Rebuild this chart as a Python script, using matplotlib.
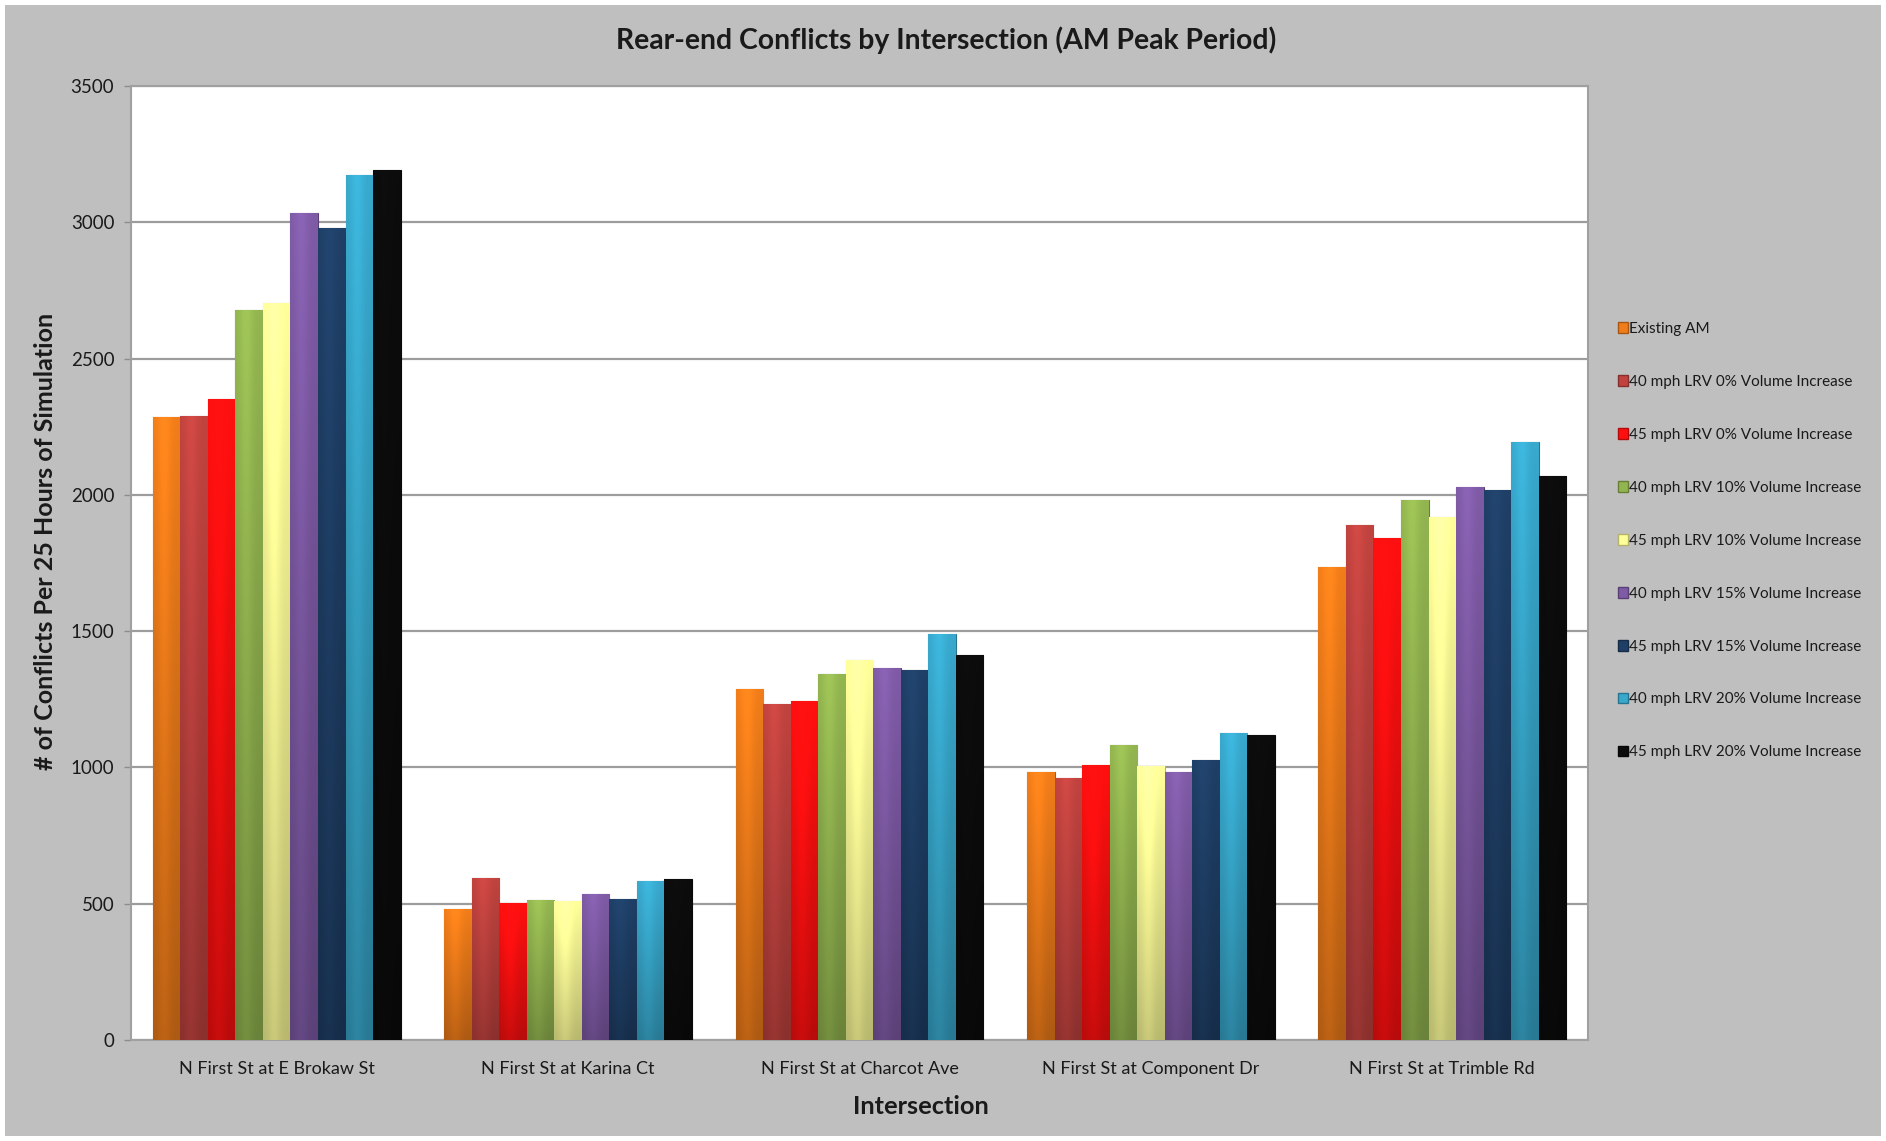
import numpy as np
import matplotlib
matplotlib.use("Agg")
import matplotlib.pyplot as plt
from matplotlib.patches import Patch, Rectangle
from matplotlib.colors import to_rgb

# Intersections on the x axis
intersections = [
    "N First St at E Brokaw St",
    "N First St at Karina Ct",
    "N First St at Charcot Ave",
    "N First St at Component Dr",
    "N First St at Trimble Rd",
]

# Scenario names (legend order)
scenarios = [
    "Existing AM",
    "40 mph LRV 0% Volume Increase",
    "45 mph LRV 0% Volume Increase",
    "40 mph LRV 10% Volume Increase",
    "45 mph LRV 10% Volume Increase",
    "40 mph LRV 15% Volume Increase",
    "45 mph LRV 15% Volume Increase",
    "40 mph LRV 20% Volume Increase",
    "45 mph LRV 20% Volume Increase",
]

# Rear-end conflicts per 25 hours of simulation, one list per scenario
existing_am = [2286, 480, 1286, 982, 1737]
mph40_vol0 = [2289, 595, 1231, 963, 1890]
mph45_vol0 = [2351, 501, 1243, 1009, 1841]
mph40_vol10 = [2679, 515, 1342, 1082, 1982]
mph45_vol10 = [2705, 510, 1393, 1006, 1920]
mph40_vol15 = [3034, 537, 1363, 982, 2030]
mph45_vol15 = [2978, 518, 1356, 1028, 2016]
mph40_vol20 = [3175, 582, 1491, 1126, 2193]
mph45_vol20 = [3192, 589, 1412, 1119, 2071]

series = [existing_am, mph40_vol0, mph45_vol0, mph40_vol10, mph45_vol10,
          mph40_vol15, mph45_vol15, mph40_vol20, mph45_vol20]

colors = ["#F07D1A", "#C0433F", "#FF1010", "#93B550", "#FFFF9A",
          "#7F5BA6", "#1F3F66", "#38A8CC", "#0C0C0C"]

y_ticks = [0, 500, 1000, 1500, 2000, 2500, 3000, 3500]

FONT = "Lato"
W, H = 1886, 1141
fig = plt.figure(figsize=(W / 100, H / 100), dpi=100)
fig.patch.set_facecolor("white")
m = 5
fig.patches.append(Rectangle((m / W, m / H), 1 - 2 * m / W, 1 - 2 * m / H,
                             transform=fig.transFigure, facecolor="#BFBFBF",
                             edgecolor="none", zorder=-10))

ax = fig.add_axes([131 / W, 1 - 1040 / H, (1588 - 131) / W, (1040 - 86) / H])
ax.set_facecolor("white")

n = len(series)
group_w = 0.85
bw = group_w / n
x = np.arange(len(intersections))


def shade(c, f):
    r, g, b = to_rgb(c)
    return (r * f, g * f, b * f)


for j, (vals, col) in enumerate(zip(series, colors)):
    pos = x + (j - (n - 1) / 2) * bw
    bars = ax.bar(pos, vals, width=bw, color=col, edgecolor=shade(col, 0.7),
                  linewidth=0.8, zorder=3)
    top = np.array(to_rgb(col))
    bot = np.array(shade(col, 0.72))
    # vertical gradient: lighter at the top, darker toward the base
    grad = np.linspace(0, 1, 64)[:, None]
    for b in bars:
        bx, by = b.get_x(), b.get_y()
        bwid, bh = b.get_width(), b.get_height()
        # light sheen across the middle of each column
        xs = np.linspace(0, 1, 32)[None, :]
        sheen = 1 + 0.10 * np.exp(-((xs - 0.4) / 0.25) ** 2)
        img = (bot[None, None, :] * (1 - grad[..., None]) + top[None, None, :] * grad[..., None])
        img = np.clip(img * sheen[..., None], 0, 1)
        im = ax.imshow(img, extent=[bx, bx + bwid, by, by + bh], origin="lower",
                       aspect="auto", zorder=3.5, interpolation="bilinear")
        im.set_clip_path(b)

ax.set_xlim(-0.5, len(intersections) - 0.5)
ax.set_ylim(0, 3500)
ax.set_yticks(y_ticks)
ax.set_yticklabels([str(t) for t in y_ticks], fontsize=13.5, family=FONT, color="#1a1a1a")
ax.set_xticks(x)
ax.set_xticklabels(intersections, fontsize=13, family=FONT, color="#1a1a1a")
ax.tick_params(axis="x", length=0, pad=15)
ax.tick_params(axis="y", length=5, width=1, color="#8C8C8C", pad=7)
ax.yaxis.grid(True, color="#9C9C9C", linewidth=1.6, zorder=0)
ax.set_axisbelow(True)
for s in ax.spines.values():
    s.set_color("#A0A0A0")
    s.set_linewidth(1.5)

fig.text(946 / W, 1 - 40 / H, "Rear-end Conflicts by Intersection (AM Peak Period)",
         ha="center", va="center", fontsize=20.4, fontweight="bold", family=FONT,
         color="#1a1a1a")
fig.text(921 / W, 1 - 1107 / H, "Intersection", ha="center", va="center",
         fontsize=18.3, fontweight="bold", family=FONT, color="#1a1a1a")
fig.text(46 / W, 1 - 541 / H, "# of Conflicts Per 25 Hours of Simulation",
         ha="center", va="center", rotation=90, fontsize=18, fontweight="bold",
         family=FONT, color="#1a1a1a")

handles = [Patch(facecolor=c, edgecolor=shade(c, 0.7)) for c in colors]
leg = fig.legend(handles, scenarios, loc="upper left",
                 bbox_to_anchor=(1604 / W, 1 - 308 / H), frameon=False,
                 handlelength=0.7, handleheight=0.7, handletextpad=0.05,
                 labelspacing=2.55, prop={"family": FONT, "size": 11})
for t in leg.get_texts():
    t.set_color("#1a1a1a")

fig.savefig("out.png", dpi=100, facecolor=fig.get_facecolor())
